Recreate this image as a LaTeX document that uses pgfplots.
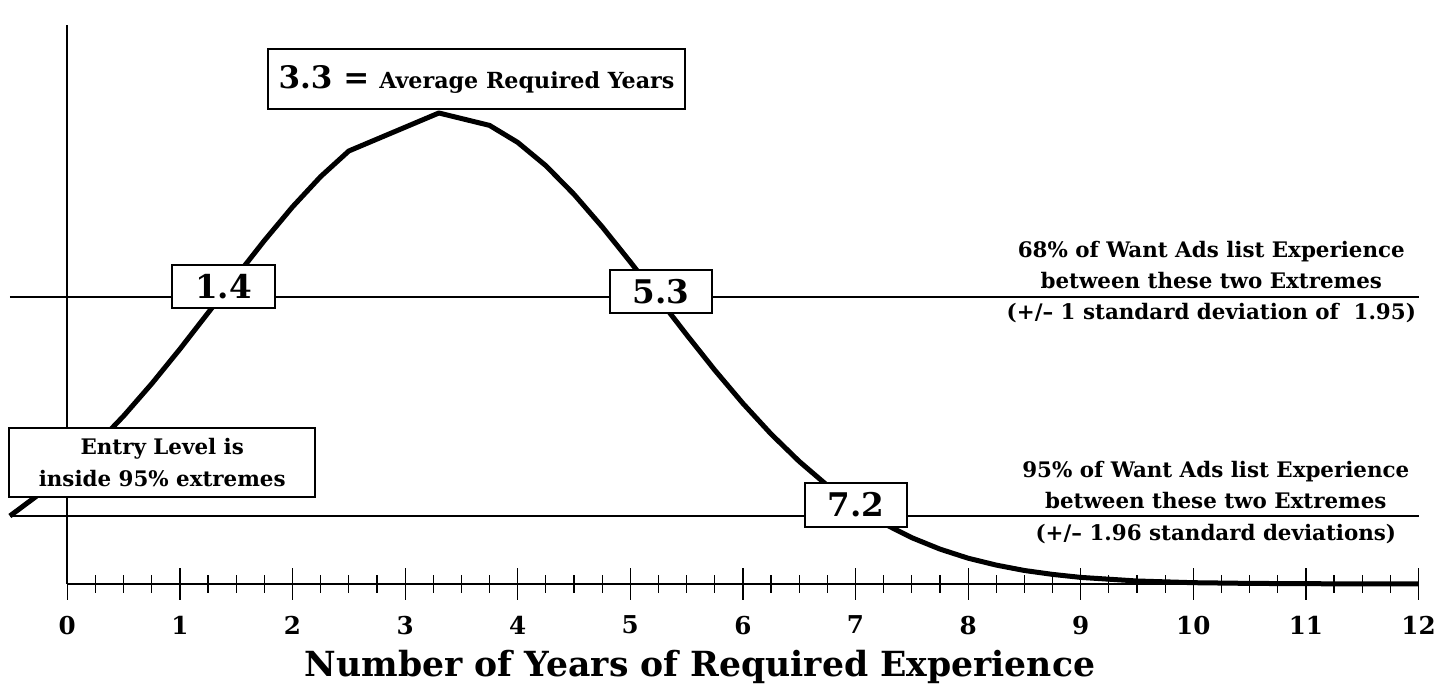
\documentclass[border=0pt]{standalone}
\usepackage{fontspec}
\setmainfont{DejaVu Serif}
\usepackage{pgfplots}
\pgfplotsset{compat=1.18}
\pgfplotstableread{
x y
-0.51 68
-0.25 89.8
0 112.5
0.25 138.6
0.5 168.0
0.75 200.3
1.0 234.9
1.25 271.1
1.5 307.6
1.75 343.4
2.0 377.1
2.25 407.4
2.5 433.0
3.3 471
3.75 458.6
4.0 441.6
4.25 418.3
4.5 389.7
4.75 357.2
5.0 322.1
5.25 285.7
5.5 249.3
5.75 213.9
6.0 180.6
6.25 150.0
6.5 122.6
6.75 98.5
7.0 77.9
7.25 60.5
7.5 46.3
7.75 34.9
8.0 25.8
8.25 18.9
8.5 13.5
8.75 9.6
9.0 6.6
9.5 3.0
10 1.3
10.5 0.6
11 0.3
11.5 0.1
12 0.1
}\curve
\begin{document}
\begin{tikzpicture}
\path[use as bounding box] (0,0) rectangle (724pt,342.5pt);
\begin{axis}[
  at={(33.65pt,50.5pt)}, anchor=south west,
  x=56.3pt, y=0.5pt,
  xmin=0, xmax=12, ymin=0, ymax=559,
  axis x line*=bottom, axis y line*=left,
  axis line style={line width=1.1pt, black},
  xtick={0,...,12}, ytick=\empty,
  minor x tick num=3,
  tick align=center,
  major tick length=16pt, minor tick length=9pt,
  every tick/.style={black, line width=0.6pt},
  clip=false,
  /pgf/number format/assume math mode=true,
  xticklabel style={font=\fontsize{12.3}{14}\selectfont\bfseries, yshift=-4.5pt},
]
\addplot[black, line width=2.5pt, line join=round, no marks] table[x=x,y=y] {\curve};
\addplot[black, line width=1pt, no marks] coordinates {(-0.51,287) (12,287)};
\addplot[black, line width=1pt, no marks] coordinates {(-0.51,68) (12,68)};

\tikzset{bx/.style={draw=black, line width=1.2pt, fill=white, inner sep=2pt, align=center}}
\node[bx, minimum width=51.5pt, minimum height=21.5pt, font=\fontsize{16.3}{18}\selectfont\bfseries] at (axis cs:1.387,297.5) {1.4};
\node[bx, minimum width=51pt, minimum height=21.5pt, font=\fontsize{16.3}{18}\selectfont\bfseries] at (axis cs:5.272,292.5) {5.3};
\node[bx, minimum width=51pt, minimum height=22pt, font=\fontsize{16.3}{18}\selectfont\bfseries] at (axis cs:7.005,79) {7.2};
\node[bx, minimum width=153pt, minimum height=34.5pt, font=\fontsize{10.7}{16}\selectfont\bfseries] at (axis cs:0.843,121.5) {Entry Level is\\inside 95\% extremes};
\node[bx, minimum width=208.5pt, minimum height=30pt, inner sep=0pt, font=\bfseries] at (axis cs:3.634,505) {{\fontsize{15.5}{19}\selectfont 3.3 =}\hspace{5pt}{\fontsize{11.1}{13}\selectfont Average Required Years}};

\tikzset{rt/.style={anchor=base, font=\fontsize{10.7}{13}\selectfont\bfseries, inner sep=0pt}}
\node[rt] at (axis cs:10.16,326) {68\% of Want Ads list Experience};
\node[rt] at (axis cs:10.16,295) {between these two Extremes};
\node[rt] at (axis cs:10.16,264) {(+/– 1 standard deviation of~~1.95)};
\node[rt] at (axis cs:10.2,106) {95\% of Want Ads list Experience};
\node[rt] at (axis cs:10.2,75) {between these two Extremes};
\node[rt] at (axis cs:10.2,43) {(+/– 1.96 standard deviations)};

\node[anchor=base, font=\fontsize{17.3}{20}\selectfont\bfseries, inner sep=0pt] at (axis cs:5.62,-93) {Number of Years of Required Experience};
\end{axis}
\end{tikzpicture}
\end{document}
